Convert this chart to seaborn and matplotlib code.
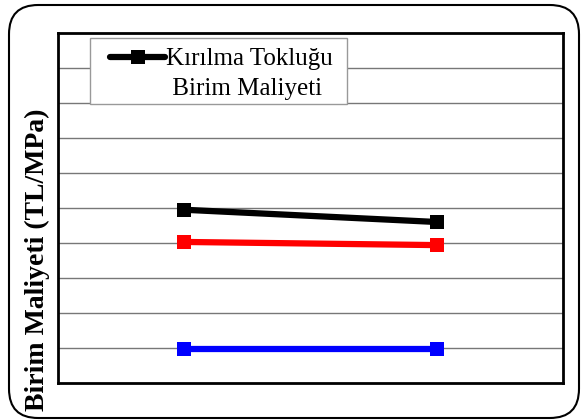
import matplotlib
matplotlib.use("Agg")
import matplotlib.pyplot as plt
import seaborn as sns
import pandas as pd
from matplotlib.patches import FancyBboxPatch, Rectangle

# Data
categories = [1, 2]
kirilma = [4.95, 4.6]
red_series = [4.03, 3.94]
blue_series = [0.98, 0.98]
legend_lines = ["Kırılma Tokluğu", " Birim Maliyeti"]
ylabel = "Birim Maliyeti (TL/MPa)"

sns.set_theme(style="white")
plt.rcParams['font.family'] = ['Liberation Serif', 'DejaVu Serif']
plt.rcParams['text.color'] = 'black'
plt.rcParams['axes.labelcolor'] = 'black'

fig = plt.figure(figsize=(5.83, 4.2), dpi=100)
ax = fig.add_axes([58/583, 1-383/420, (563-58)/583, (383-33)/420])

df = pd.DataFrame({"x": categories * 3,
                   "y": kirilma + red_series + blue_series,
                   "s": ["k"] * 2 + ["r"] * 2 + ["b"] * 2})

colors = {"k": "#000000", "r": "#ff0000", "b": "#0000ff"}
for key in ["b", "r", "k"]:
    sub = df[df.s == key]
    sns.lineplot(data=sub, x="x", y="y", ax=ax, color=colors[key],
                 marker="s", markersize=10, markeredgewidth=0,
                 linewidth=4.5, legend=False, zorder=3)

ax.set_xlim(0.5, 2.5)
ax.set_ylim(0, 10)
ax.set_yticks(range(1, 10))
ax.set_xticks([])
ax.yaxis.grid(True, color="#777777", linewidth=1.0)
ax.tick_params(left=False, labelleft=False, bottom=False, labelbottom=False)
for sp in ax.spines.values():
    sp.set_color("black")
    sp.set_linewidth(2)
ax.set_xlabel("")
ax.set_ylabel(ylabel, fontsize=20, fontweight="bold", color="black")
ax.yaxis.set_label_coords(-0.016, 0.351)

# legend frame
frame = Rectangle((90/583, 1-104/420), (347-90)/583, (104-38)/420,
                  transform=fig.transFigure, facecolor="white",
                  edgecolor="#999999", linewidth=1, zorder=5, clip_on=False)
ax.add_artist(frame)

handle = plt.Line2D([], [], color="black", marker="s", markersize=10,
                    markeredgewidth=0, linewidth=4.5, solid_capstyle="round")
blank = plt.Line2D([], [], color="none", linewidth=0)
leg = ax.legend([handle, blank], legend_lines, loc="upper left",
                bbox_to_anchor=(110/583, 1-48/420), bbox_transform=fig.transFigure,
                frameon=False, prop={"size": 18}, borderaxespad=0, borderpad=0,
                handlelength=2.2, handletextpad=0.05, labelspacing=0.3)
leg.set_zorder(6)
for t in leg.get_texts():
    t.set_color("black")

border = FancyBboxPatch((9/583, 1-418/420), (579-9)/583, (418-5)/420,
                        boxstyle="round,pad=0,rounding_size=0.05",
                        transform=fig.transFigure, facecolor="none",
                        edgecolor="black", linewidth=1.5, mutation_aspect=583/420)
fig.patches.append(border)

fig.savefig("out.png", dpi=100)
